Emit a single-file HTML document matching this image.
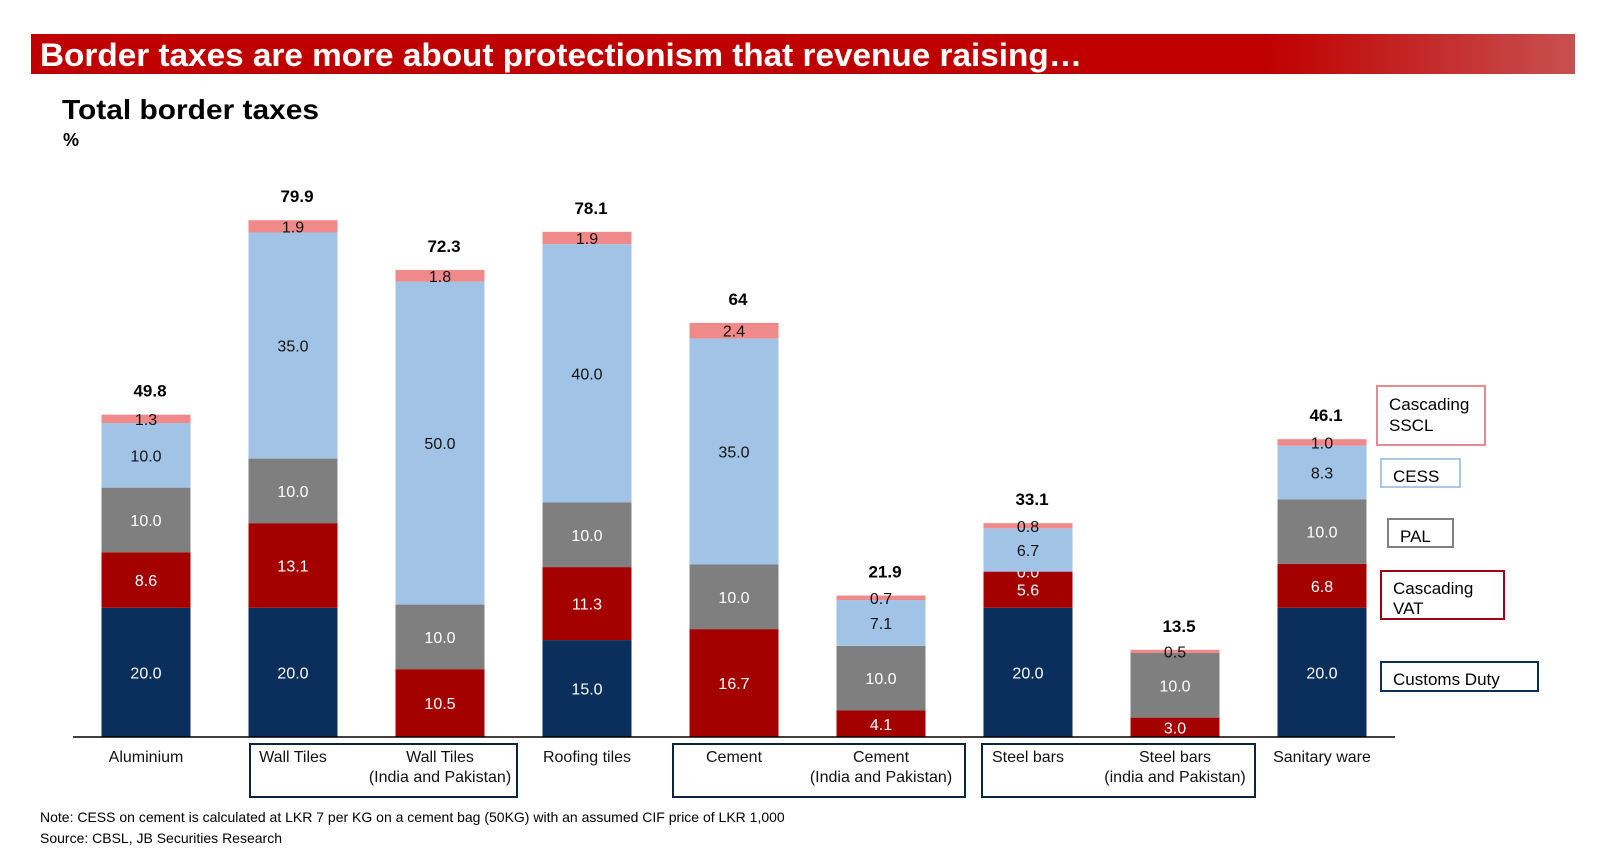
<!DOCTYPE html>
<html><head><meta charset="utf-8"><style>
body{margin:0;background:#fff;width:1600px;height:851px;overflow:hidden;font-family:"Liberation Sans",Arial,sans-serif}
svg text{font-family:"Liberation Sans",Arial,sans-serif}
</style></head><body>
<svg id="chart" width="1600" height="851" viewBox="0 0 1600 851">
<defs><linearGradient id="hg" x1="0" x2="1"><stop offset="0" stop-color="#c00000"/><stop offset="0.8" stop-color="#c00000"/><stop offset="1" stop-color="#c85050"/></linearGradient></defs>
<rect x="31" y="34" width="1544" height="40" fill="url(#hg)"/>
<text x="40" y="66" font-size="32" font-weight="bold" fill="#fff" textLength="1042" lengthAdjust="spacingAndGlyphs">Border taxes are more about protectionism that revenue raising…</text>
<text x="62" y="119" font-size="28" font-weight="bold" fill="#000" textLength="257" lengthAdjust="spacingAndGlyphs">Total border taxes</text>
<text x="63" y="146" font-size="18" font-weight="bold" fill="#000">%</text>
<g id="bars"></g>
<line x1="73" y1="737" x2="1395" y2="737" stroke="#000" stroke-width="1.5"/>
<rect x="250" y="744" width="267" height="53" fill="none" stroke="#0b2440" stroke-width="2"/>
<rect x="673" y="744" width="292" height="53" fill="none" stroke="#0b2440" stroke-width="2"/>
<rect x="982" y="744" width="273" height="53" fill="none" stroke="#0b2440" stroke-width="2"/>
<g id="cats"></g>
<rect x="1377" y="386" width="108" height="59" fill="none" stroke="#e88a92" stroke-width="2"/>
<text x="1389" y="410" font-size="17"><tspan x="1389">Cascading</tspan><tspan x="1389" dy="21">SSCL</tspan></text>
<rect x="1381" y="459" width="79" height="28" fill="none" stroke="#a9c8e4" stroke-width="2"/>
<text x="1393" y="482" font-size="17">CESS</text>
<rect x="1388" y="519" width="65" height="28" fill="none" stroke="#808080" stroke-width="2"/>
<text x="1400" y="542" font-size="17">PAL</text>
<rect x="1381" y="571" width="123" height="48" fill="none" stroke="#a00010" stroke-width="2"/>
<text x="1393" y="594" font-size="17"><tspan x="1393">Cascading</tspan><tspan x="1393" dy="20">VAT</tspan></text>
<rect x="1381" y="662" width="157" height="29" fill="none" stroke="#0b2f5c" stroke-width="2"/>
<text x="1393" y="685" font-size="17">Customs Duty</text>
<text x="40" y="822" font-size="14">Note: CESS on cement is calculated at LKR 7 per KG on a cement bag (50KG) with an assumed CIF price of LKR 1,000</text>
<text x="40" y="843" font-size="14">Source: CBSL, JB Securities Research</text>
</svg>
<script>
const categories=[["Aluminium"],["Wall Tiles"],["Wall Tiles","(India and Pakistan)"],["Roofing tiles"],["Cement"],["Cement","(India and Pakistan)"],["Steel bars"],["Steel bars","(india and Pakistan)"],["Sanitary ware"]];
const customs=[20,20,0,15,0,0,20,0,20];
const vat=[8.6,13.1,10.5,11.3,16.7,4.1,5.6,3.0,6.8];
const pal=[10,10,10,10,10,10,0,10,10];
const cess=[10,35,50,40,35,7.1,6.7,0,8.3];
const sscl=[1.3,1.9,1.8,1.9,2.4,0.7,0.8,0.5,1.0];
const totals=["49.8","79.9","72.3","78.1","64","21.9","33.1","13.5","46.1"];
const zeroLabels=[[4,0],[6,2]];
const series=[customs,vat,pal,cess,sscl];
const colors=["#0b2f5c","#a50000","#7f7f7f","#a1c4e6","#f08a8a"];
const textCol=["#fff","#fff","#fff","#111","#111"];
const names=["customs","vat","pal","cess","sscl"];
const NS="http://www.w3.org/2000/svg";
const base=737,scale=6.46,x0=146,step=147,bw=89;
const y=v=>base-v*scale, xc=i=>x0+i*step;
const g=document.getElementById('bars'),cg=document.getElementById('cats');
function mk(tag,a,p){const e=document.createElementNS(NS,tag);for(const k in a)e.setAttribute(k,a[k]);p.appendChild(e);return e;}
categories.forEach((c,i)=>{
  let cum=0;
  series.forEach((s,j)=>{
    const v=s[i];const top=cum+v;
    if(v>0){
      const r=mk('rect',{x:xc(i)-bw/2,y:y(top),width:bw,height:v*scale,fill:colors[j]},g);
      
      
    }
    const showZero=zeroLabels.some(z=>z[0]===i&&z[1]===j);
    if(v>0||showZero){
      const t=mk('text',{x:xc(i),y:y(cum+v/2)+6,'font-size':16,'text-anchor':'middle',fill:textCol[j]},g);
      t.textContent=v.toFixed(1);
      
      
    }
    cum=top;
  });
  const tt=mk('text',{x:xc(i)+4,y:y(cum)-18,'font-size':17,'font-weight':'bold','text-anchor':'middle',fill:'#000'},g);
  tt.textContent=totals[i];
  
  
  c.forEach((line,k)=>{
    const ct=mk('text',{x:xc(i),y:762+k*20,'font-size':16,'text-anchor':'middle',fill:'#111'},cg);
    ct.textContent=line;
    
    
  });
});
</script>
</body></html>
